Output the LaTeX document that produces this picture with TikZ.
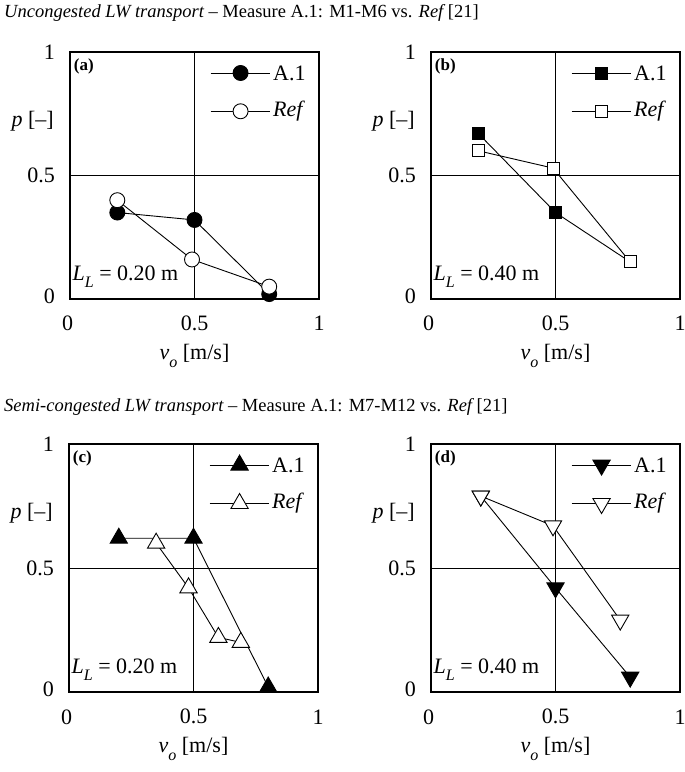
\documentclass[tikz,border=0pt]{standalone}
\usepackage{fontspec}
\setmainfont{Liberation Serif}
\usetikzlibrary{plotmarks}
\tikzset{
  frame/.style={line width=1.6pt},
  grid/.style={line width=0.5pt},
  ser/.style={line width=0.9pt},
  ticklab/.style={font=\fontsize{22}{22}\selectfont,inner sep=0pt},
  leglab/.style={font=\fontsize{22}{22}\selectfont,anchor=west,inner sep=0pt},
  ttl/.style={font=\fontsize{18.5}{19}\selectfont,anchor=west,inner sep=0pt},
  fillc/.style={mark=*,mark size=7.5pt,mark options={fill=black,line width=0.9pt}},
  openc/.style={mark=*,mark size=7.5pt,mark options={fill=white,line width=0.9pt}},
  fills/.style={mark=square*,mark size=6pt,mark options={fill=black,line width=0.9pt}},
  opens/.style={mark=square*,mark size=6pt,mark options={fill=white,line width=0.9pt}},
  fillt/.style={mark=triangle*,mark size=10pt,mark options={fill=black,line width=0.9pt}},
  opent/.style={mark=triangle*,mark size=10pt,mark options={fill=white,line width=0.9pt}},
  filld/.style={mark=triangle*,mark size=10pt,mark options={fill=black,line width=0.9pt,rotate=180}},
  opend/.style={mark=triangle*,mark size=10pt,mark options={fill=white,line width=0.9pt,rotate=180}},
}
\newcommand{\axesframe}[2]{%
  \draw[grid] (0.5,0) -- (0.5,1) (0,0.5) -- (1,0.5);
  \draw[frame] (0,0) rectangle (1,1);
  \node[ticklab] (x0) at (-0.01,-0.1) {0};
  \node[ticklab] (x5) at (0.5,-0.1) {0.5};
  \node[ticklab] (x1) at (1,-0.1) {1};
  \node[ticklab,anchor=east] (y0) at (-0.06,0.01) {0};
  \node[ticklab,anchor=east] (y5) at (-0.06,0.5) {0.5};
  \node[ticklab,anchor=east] (y1) at (-0.06,1) {1};
  \node[ticklab] (pl) at (-0.15,0.72) {\itshape p\upshape\ [–]};
  \node[ticklab] (vl) at (0.5,-0.23) {\itshape v\raisebox{-0.35em}{\fontsize{16}{16}\selectfont o}\upshape\ [m/s]};
  \node[font=\fontsize{17}{17}\selectfont\bfseries,anchor=north west,inner sep=0pt] (lab) at (0.015,0.975) {#1};
  \node[font=\fontsize{22}{22}\selectfont,anchor=west,inner sep=0pt] (ll) at (0.01,0.09) {\itshape L\raisebox{-0.35em}{\fontsize{16}{16}\selectfont L}\upshape\ = #2 m};
  \coordinate (la) at (0.565,0.915); \coordinate (lb) at (0.805,0.915);
  \coordinate (ra) at (0.565,0.76); \coordinate (rb) at (0.805,0.76);
  \node[leglab] (t1) at (0.815,0.915) {A.1};
  \node[leglab] (t2) at (0.815,0.76) {\itshape Ref};
}
\begin{document}
\begin{tikzpicture}[x=1pt,y=1pt]
\useasboundingbox (0,0) rectangle (685,772);
\node[ttl] (T1) at (4,759) {\itshape Uncongested LW transport\upshape\ – Measure A.1: M1-M6 vs. \itshape Ref\upshape\ [21]};
\node[ttl] (T2) at (4,365) {\itshape Semi-congested LW transport\upshape\ – Measure A.1: M7-M12 vs. \itshape Ref\upshape\ [21]};
% (a)
\begin{scope}[shift={(70,473)},x=249pt,y=247pt]
\axesframe{(a)}{0.20}
\draw[ser] plot[fillc] coordinates {(0.19,0.35) (0.5,0.32) (0.8,0.02)};
\draw[ser] plot[openc] coordinates {(0.19,0.40) (0.49,0.16) (0.8,0.05)};
\draw[ser] (la) -- (lb) plot[fillc] coordinates {(0.685,0.915)};
\draw[ser] (ra) -- (rb) plot[openc] coordinates {(0.685,0.76)};
\end{scope}
% (b)
\begin{scope}[shift={(431,473)},x=249pt,y=247pt]
\axesframe{(b)}{0.40}
\draw[ser] plot[fills] coordinates {(0.19,0.67) (0.5,0.35) (0.8,0.15)};
\draw[ser] plot[opens] coordinates {(0.19,0.60) (0.49,0.53) (0.8,0.15)};
\draw[ser] (la) -- (lb) plot[fills] coordinates {(0.685,0.915)};
\draw[ser] (ra) -- (rb) plot[opens] coordinates {(0.685,0.76)};
\end{scope}
% (c)
\begin{scope}[shift={(69,80)},x=249pt,y=248pt]
\axesframe{(c)}{0.20}
\draw[ser] plot[fillt] coordinates {(0.2,0.62) (0.5,0.62) (0.8,0.02)};
\draw[ser] plot[opent] coordinates {(0.35,0.60) (0.48,0.42) (0.6,0.22) (0.69,0.20)};
\draw[ser] (la) -- (lb) plot[fillt] coordinates {(0.685,0.915)};
\draw[ser] (ra) -- (rb) plot[opent] coordinates {(0.685,0.76)};
\end{scope}
% (d)
\begin{scope}[shift={(431,80)},x=249pt,y=248pt]
\axesframe{(d)}{0.40}
\draw[ser] plot[filld] coordinates {(0.2,0.79) (0.5,0.42) (0.8,0.06)};
\draw[ser] plot[opend] coordinates {(0.2,0.79) (0.49,0.67) (0.76,0.29)};
\draw[ser] (la) -- (lb) plot[filld] coordinates {(0.685,0.915)};
\draw[ser] (ra) -- (rb) plot[opend] coordinates {(0.685,0.76)};
\end{scope}
\end{tikzpicture}
\end{document}
